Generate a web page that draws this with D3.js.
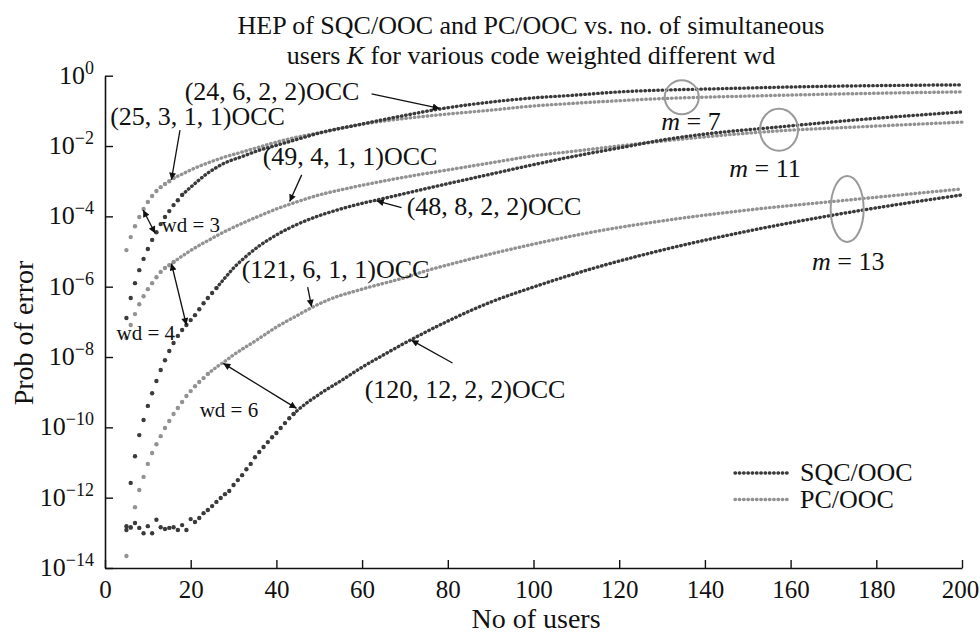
<!DOCTYPE html>
<html>
<head>
<meta charset="utf-8">
<script src="https://cdn.jsdelivr.net/npm/d3@7"></script>
<style>
  html, body { margin: 0; padding: 0; background: #fff; }
  svg { display: block; font-family: 'Liberation Serif', 'Times New Roman', serif; }
</style>
</head>
<body>
<script>
const w = 980;
const h = 635;

// values are log10(prob. of error)
// head arrays: one value per user count, starting at startK (separate dots)
// tail arrays: [users, log10 p] where the dots run into a line
const startK = 5;
const xTicks = [0, 20, 40, 60, 80, 100, 120, 140, 160, 180, 200];
const yTickExponents = [0, -2, -4, -6, -8, -10, -12, -14];
const legendLabels = ['SQC/OOC', 'PC/OOC'];

// m = 7
const pcM7Head = [-4.96, -4.59, -4.28, -4.02, -3.79, -3.59, -3.42, -3.28, -3.17, -3.08, -3.0, -2.91];
const pcM7Tail = [[16, -2.91], [18, -2.8], [20, -2.68], [24, -2.48], [28, -2.31], [32, -2.17], [36, -2.03],
  [40, -1.89], [44, -1.77], [51, -1.6], [59, -1.4], [67, -1.26], [80, -1.09], [90, -0.98], [100, -0.86],
  [110, -0.78], [120, -0.71], [130, -0.65], [140, -0.61], [150, -0.58], [160, -0.55], [175, -0.51], [200, -0.46]];
const sqcM7Head = [-6.89, -6.32, -5.9, -5.53, -5.21, -4.93, -4.67, -4.45, -4.22, -4.02, -3.85, -3.68, -3.54, -3.39];
const sqcM7Tail = [[18, -3.39], [20, -3.17], [24, -2.77], [28, -2.48], [32, -2.3], [36, -2.12], [40, -1.98],
  [44, -1.84], [51, -1.6], [59, -1.4], [67, -1.2], [79, -0.93], [90, -0.75], [100, -0.63], [110, -0.55],
  [120, -0.46], [130, -0.41], [140, -0.38], [150, -0.35], [160, -0.32], [175, -0.29], [200, -0.26]];

// m = 11
const pcM11Head = [-7.46, -7.09, -6.78, -6.5, -6.27, -6.07, -5.9, -5.73, -5.58, -5.47, -5.39, -5.3];
const pcM11Tail = [[16, -5.3], [18, -5.13], [20, -4.97], [24, -4.69], [28, -4.43], [32, -4.2], [36, -3.99],
  [40, -3.79], [44, -3.62], [50, -3.39], [56, -3.22], [64, -3.02], [72, -2.84], [80, -2.68], [90, -2.48],
  [100, -2.28], [110, -2.14], [122, -1.97], [130, -1.86], [140, -1.74], [157, -1.57], [175, -1.46], [200, -1.32]];
const sqcM11Head = [-12.92, -11.58, -10.82, -10.22, -9.79, -9.39, -9.03, -8.68, -8.37, -8.09, -7.83,
  -7.6, -7.4, -7.23, -7.09, -6.95, -6.81, -6.64, -6.47, -6.32, -6.18, -6.04];
const sqcM11Tail = [[26, -6.04], [28, -5.75], [30, -5.47], [33, -5.13], [36, -4.84], [40, -4.53], [45, -4.22],
  [50, -3.98], [55, -3.79], [60, -3.63], [64, -3.52], [70, -3.35], [80, -3.07], [90, -2.8], [100, -2.53],
  [110, -2.28], [122, -2.01], [130, -1.83], [140, -1.66], [157, -1.46], [175, -1.26], [200, -1.03]];

// m = 13
const pcM13Head = [-13.66, -12.86, -12.27, -11.78, -11.41, -11.04, -10.73, -10.48, -10.25, -10.02,
  -9.82, -9.62, -9.45, -9.28, -9.11, -8.97, -8.83, -8.71, -8.6, -8.48];
const pcM13Tail = [[24, -8.48], [26, -8.29], [28, -8.12], [30, -7.94], [35, -7.55], [40, -7.15], [45, -6.81],
  [48, -6.61], [52, -6.38], [60, -6.07], [70, -5.74], [76, -5.51], [80, -5.38], [90, -5.07], [100, -4.79],
  [115, -4.42], [130, -4.13], [150, -3.82], [173, -3.54], [200, -3.22]];
const sqcM13Head = [-12.81, -12.84, -12.72, -12.86, -13.01, -12.81, -13.01, -12.63, -12.84, -12.89,
  -12.86, -12.84, -12.92, -12.78, -12.92, -12.61, -12.69, -12.58, -12.44, -12.35,
  -12.24, -12.12, -12.01, -11.9, -11.81, -11.64, -11.5, -11.36, -11.19, -11.04,
  -10.85, -10.7, -10.56, -10.42, -10.28, -10.16, -10.02, -9.88, -9.74, -9.62];
const sqcM13Tail = [[44, -9.62], [45, -9.51], [50, -9.06], [55, -8.68], [60, -8.29], [65, -7.94], [70, -7.6],
  [80, -6.98], [90, -6.44], [100, -6.01], [115, -5.44], [130, -4.96], [150, -4.42], [173, -3.9], [200, -3.39]];

const colors = { sqc: '#3a3a3a', pc: '#929292' };

const series = [
  { kind: 'pc', head: pcM7Head, tail: pcM7Tail },
  { kind: 'pc', head: pcM11Head, tail: pcM11Tail },
  { kind: 'pc', head: pcM13Head, tail: pcM13Tail },
  { kind: 'sqc', head: sqcM7Head, tail: sqcM7Tail },
  { kind: 'sqc', head: sqcM11Head, tail: sqcM11Tail },
  { kind: 'sqc', head: sqcM13Head, tail: sqcM13Tail },
];

const x = d3.scaleLinear().domain([0, 200]).range([105, 962]);
const y = d3.scaleLog().domain([1e-14, 1]).range([568, 75.7]);
const yv = e => y(10 ** e);

const svg = d3.select('body').append('svg').attr('width', w).attr('height', h);

const defs = svg.append('defs');
defs
  .append('marker')
  .attr('id', 'arrow')
  .attr('viewBox', '0 0 10 10')
  .attr('refX', 10)
  .attr('refY', 5)
  .attr('markerWidth', 12)
  .attr('markerHeight', 7)
  .attr('markerUnits', 'userSpaceOnUse')
  .attr('orient', 'auto-start-reverse')
  .append('path')
  .attr('d', 'M0,0L10,5L0,10Z')
  .attr('fill', '#111');

// title
const title = svg
  .append('text')
  .attr('text-anchor', 'middle')
  .attr('font-size', 26)
  .attr('fill', '#111');
title.append('tspan').attr('x', 531).attr('y', 34).text('HEP of SQC/OOC and PC/OOC vs. no. of simultaneous');
const t2 = title.append('tspan').attr('x', 531).attr('y', 64);
t2.append('tspan').text('users ');
t2.append('tspan').attr('font-style', 'italic').text('K');
t2.append('tspan').text(' for various code weighted different wd');

// curves
const line = d3
  .line()
  .x(d => x(d[0]))
  .y(d => yv(d[1]))
  .curve(d3.curveMonotoneX);

const curves = svg.append('g');
series.forEach(s => {
  curves
    .append('path')
    .datum(s.tail)
    .attr('d', line)
    .attr('fill', 'none')
    .attr('stroke', colors[s.kind])
    .attr('stroke-width', 3.4)
    .attr('stroke-linecap', 'round')
    .attr('stroke-dasharray', '0.5 3.8');
  curves
    .selectAll(null)
    .data(s.head)
    .enter()
    .append('circle')
    .attr('cx', (d, i) => x(startK + i))
    .attr('cy', d => yv(d))
    .attr('r', 2.2)
    .attr('fill', colors[s.kind]);
});

// axes
const xAxis = d3
  .axisBottom(x)
  .tickValues(xTicks)
  .tickSizeInner(-8)
  .tickSizeOuter(0)
  .tickFormat(d => d);

const yAxis = d3
  .axisLeft(y)
  .tickValues(yTickExponents.map(e => 10 ** e))
  .tickSizeInner(-8)
  .tickSizeOuter(0)
  .tickFormat('');

const gx = svg
  .append('g')
  .attr('transform', `translate(0,${568})`)
  .call(xAxis);
gx.selectAll('text')
  .attr('y', 30)
  .attr('dy', null)
  .attr('dx', d => (d === 200 ? -2 : 0))
  .attr('font-size', 25)
  .attr('font-family', "'Liberation Serif', 'Times New Roman', serif")
  .attr('fill', '#111');

const gy = svg
  .append('g')
  .attr('transform', `translate(${105},0)`)
  .call(yAxis);
gy.selectAll('text').remove();

[gx, gy].forEach(g => {
  g.select('.domain').attr('stroke', '#111').attr('stroke-width', 1.6);
  g.selectAll('.tick line').attr('stroke', '#111').attr('stroke-width', 1.4);
});

const yLabels = svg
  .append('g')
  .selectAll('text')
  .data(yTickExponents)
  .enter()
  .append('text')
  .attr('x', 94)
  .attr('y', d => yv(d) + 8)
  .attr('text-anchor', 'end')
  .attr('fill', '#111');
yLabels.append('tspan').attr('font-size', 26).text('10');
yLabels
  .append('tspan')
  .attr('font-size', 18)
  .attr('dy', -10)
  .text(d => (d < 0 ? `\u2212${-d}` : `${d}`));

// axis titles
svg
  .append('text')
  .attr('x', 536)
  .attr('y', 628)
  .attr('text-anchor', 'middle')
  .attr('font-size', 28)
  .attr('fill', '#111')
  .text('No of users');

svg
  .append('text')
  .attr('transform', 'translate(33,333) rotate(-90)')
  .attr('text-anchor', 'middle')
  .attr('font-size', 28)
  .attr('fill', '#111')
  .text('Prob of error');

// code labels with arrows (positions in data units)
const notes = [
  { text: '(24, 6, 2, 2)OCC', at: [18.6, -0.69], from: [62.2, -0.52], to: [78.1, -0.93] },
  { text: '(25, 3, 1, 1)OCC', at: [1.2, -1.4], from: [17.5, -1.55], to: [15.5, -2.96] },
  { text: '(49, 4, 1, 1)OCC', at: [36.8, -2.54], from: [45.9, -2.82], to: [43.1, -3.58] },
  { text: '(48, 8, 2, 2)OCC', at: [70.4, -3.96], from: [69.2, -3.75], to: [63.4, -3.56] },
  { text: '(121, 6, 1, 1)OCC', at: [31.9, -5.75], from: [47.3, -6.01], to: [48.2, -6.57] },
  { text: '(120, 12, 2, 2)OCC', at: [60.6, -9.17], from: [81.1, -8.17], to: [71.5, -7.52] },
];

const wdNotes = [
  { text: 'wd = 3', at: [13.2, -4.44], ends: [[8.9, -3.82], [11.7, -4.48]] },
  { text: 'wd = 4', at: [2.7, -7.52], ends: [[15.5, -5.34], [19.0, -7.09]] },
  { text: 'wd = 6', at: [22.1, -9.7], ends: [[27.6, -8.18], [44.7, -9.46]] },
];

const groupNotes = [
  { m: 7, at: [129.8, -1.54], ring: [134.6, -0.61], rx: 17, ry: 17 },
  { m: 11, at: [145.7, -2.88], ring: [157.3, -1.54], rx: 19, ry: 21 },
  { m: 13, at: [165, -5.53], ring: [173.2, -3.79], rx: 16.5, ry: 33 },
];

const ann = svg.append('g').attr('fill', '#111');

notes.forEach(n => {
  ann
    .append('text')
    .attr('x', x(n.at[0]))
    .attr('y', yv(n.at[1]))
    .attr('font-size', 26)
    .text(n.text);
  ann
    .append('line')
    .attr('x1', x(n.from[0]))
    .attr('y1', yv(n.from[1]))
    .attr('x2', x(n.to[0]))
    .attr('y2', yv(n.to[1]))
    .attr('stroke', '#111')
    .attr('stroke-width', 1.3)
    .attr('marker-end', 'url(#arrow)');
});

wdNotes.forEach(n => {
  ann
    .append('text')
    .attr('x', x(n.at[0]))
    .attr('y', yv(n.at[1]))
    .attr('font-size', 21)
    .text(n.text);
  ann
    .append('line')
    .attr('x1', x(n.ends[0][0]))
    .attr('y1', yv(n.ends[0][1]))
    .attr('x2', x(n.ends[1][0]))
    .attr('y2', yv(n.ends[1][1]))
    .attr('stroke', '#111')
    .attr('stroke-width', 1.3)
    .attr('marker-start', 'url(#arrow)')
    .attr('marker-end', 'url(#arrow)');
});

groupNotes.forEach(n => {
  ann
    .append('ellipse')
    .attr('cx', x(n.ring[0]))
    .attr('cy', yv(n.ring[1]))
    .attr('rx', n.rx)
    .attr('ry', n.ry)
    .attr('fill', 'none')
    .attr('stroke', '#9a9a9a')
    .attr('stroke-width', 2);
  const t = ann
    .append('text')
    .attr('x', x(n.at[0]))
    .attr('y', yv(n.at[1]))
    .attr('font-size', 26);
  t.append('tspan').attr('font-style', 'italic').text('m');
  t.append('tspan').text(` = ${n.m}`);
});

// legend
const legend = svg.append('g').attr('transform', 'translate(735,473)');
['sqc', 'pc'].forEach((k, i) => {
  legend
    .append('path')
    .attr('d', `M0,${i * 26.5}H53`)
    .attr('stroke', colors[k])
    .attr('stroke-width', 3.4)
    .attr('stroke-linecap', 'round')
    .attr('stroke-dasharray', '0.5 3.8');
  legend
    .append('text')
    .attr('x', 65)
    .attr('y', i * 26.5 + 8)
    .attr('font-size', 26)
    .attr('fill', '#111')
    .text(legendLabels[i]);
});
</script>
</body>
</html>
